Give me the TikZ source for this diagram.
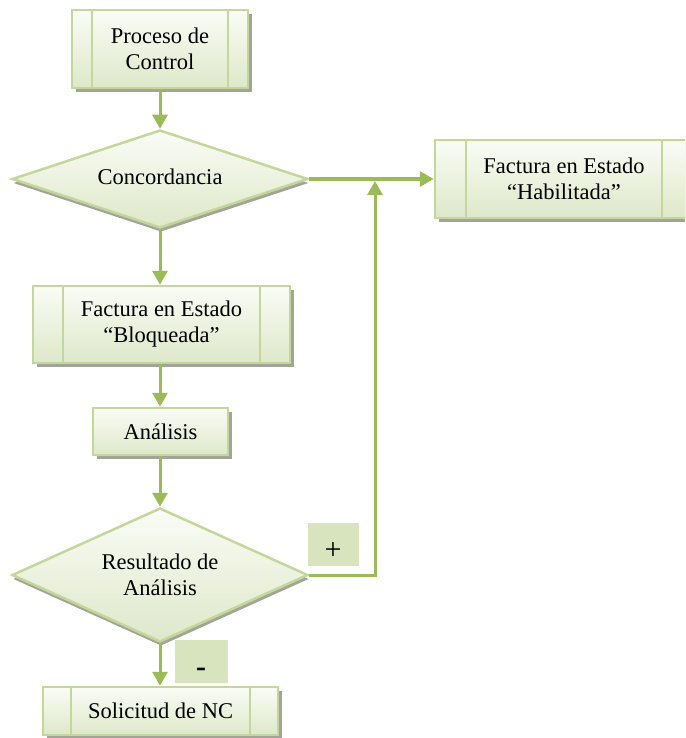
\documentclass[tikz,border=0pt]{standalone}
\usepackage{fontspec}
\setmainfont{Liberation Serif}
\usetikzlibrary{shapes.geometric,shadows,arrows.meta}

\definecolor{edgegreen}{HTML}{C4D79B}
\definecolor{arrowgreen}{HTML}{9BBB59}
\definecolor{filltop}{HTML}{FAFCF6}
\definecolor{fillbot}{HTML}{DEE8C9}
\definecolor{tagfill}{HTML}{D7E4BD}
\definecolor{shadowgray}{HTML}{A3A498}

\tikzset{
  labeltext/.style={font=\fontsize{22.5}{26}\selectfont, align=center},
  flowbox/.style={rectangle, draw=edgegreen, line width=2.5pt,
    top color=filltop, bottom color=fillbot, inner sep=0pt, labeltext,
    drop shadow={shadow xshift=3.5pt, shadow yshift=-4pt, fill=shadowgray, opacity=1}},
  decision/.style={diamond, draw=edgegreen, line width=2.5pt,
    top color=filltop, bottom color=fillbot, inner sep=0pt, labeltext,
    drop shadow={shadow xshift=1pt, shadow yshift=-4pt, fill=shadowgray, opacity=1}},
  divider/.style={draw=edgegreen, line width=2pt},
  tagbox/.style={rectangle, fill=tagfill, inner sep=0pt, font=\fontsize{30}{34}\selectfont},
  flow/.style={draw=arrowgreen, line width=3pt, -{Triangle[width=15pt,length=14pt]}}
}

\begin{document}
\begin{tikzpicture}[x=1pt,y=-1pt]
\useasboundingbox (0,0) rectangle (685,738);
\clip (0,0) rectangle (685,738);

% process boxes
\node[flowbox, minimum width=176pt, minimum height=78pt] (proc) at (160,49) {Proceso de\\Control};
\node[decision, minimum width=296pt, minimum height=98pt, aspect=3] (conc) at (160,179) {\raisebox{4pt}{Concordancia}};
\node[flowbox, minimum width=258pt, minimum height=78pt] (hab) at (564,179) {Factura en Estado\\``Habilitada''};
\node[flowbox, minimum width=257pt, minimum height=77pt] (bloq) at (161.5,324.5) {Factura en Estado\\``Bloqueada''};
\node[flowbox, minimum width=135pt, minimum height=47pt] (anal) at (160.5,431.5) {Análisis};
\node[decision, minimum width=296pt, minimum height=134pt, aspect=2.2] (res) at (160,575) {Resultado de\\Análisis};
\node[flowbox, minimum width=235pt, minimum height=48pt] (sol) at (160.5,711) {Solicitud de NC};

% vertical dividers inside the boxes
\foreach \n/\d in {proc/21, hab/32, bloq/31, sol/29}{
  \draw[divider] ([xshift=\d pt]\n.north west) -- ([xshift=\d pt]\n.south west);
  \draw[divider] ([xshift=-\d pt]\n.north east) -- ([xshift=-\d pt]\n.south east);
}

% outcome tags (glyphs sit in the lower part of each tag)
\node[tagbox, minimum width=51pt, minimum height=43pt] (plus) at (333,544) {\raisebox{-15pt}[0pt][0pt]{+}};
\node[tagbox, minimum width=53pt, minimum height=43pt] (minus) at (201,661) {\raisebox{-15.5pt}[0pt][0pt]{\textbf{-}}};

% connectors
\coordinate (join) at (375,181);
\draw[flow] (proc.south) -- (conc.north);
\draw[flow] (conc.east) -- (hab.west);
\draw[flow] (conc.south) -- (conc.south |- bloq.north);
\draw[flow] (bloq.south -| conc.south) -- (conc.south |- anal.north);
\draw[flow] (anal.south -| conc.south) -- (res.north);
\draw[flow] (res.east) -| (join);
\draw[flow] (res.south) -- (res.south |- sol.north);
\end{tikzpicture}
\end{document}
